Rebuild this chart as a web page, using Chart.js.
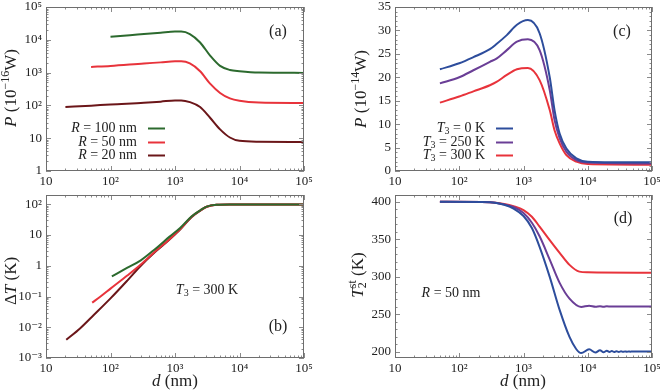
<!DOCTYPE html>
<html>
<head>
<meta charset="utf-8">
<script src="https://cdn.jsdelivr.net/npm/chart.js@4.4.1/dist/chart.umd.min.js"></script>
<style>
  html, body { margin: 0; padding: 0; background: #fff; }
  #wrap { position: relative; width: 660px; height: 392px; overflow: hidden; }
  .panel { position: absolute; }
</style>
</head>
<body>
<div id="wrap">
  <div class="panel" style="left:0;top:0;width:330px;height:186px"><canvas id="pa"></canvas></div>
  <div class="panel" style="left:330px;top:0;width:330px;height:186px"><canvas id="pc"></canvas></div>
  <div class="panel" style="left:0;top:186px;width:330px;height:206px"><canvas id="pb"></canvas></div>
  <div class="panel" style="left:330px;top:186px;width:330px;height:206px"><canvas id="pd"></canvas></div>
</div>
<script>
const SERIF = "'Liberation Serif', 'DejaVu Serif', serif";
const INK = '#222';

// x axis (all panels): distance d in nm
const xTickVals = [10, 100, 1000, 10000, 100000];
const xTickLabels = ['10', '10²', '10³', '10⁴', '10⁵'];

// (a) power vs d for three radii
const yATickVals = [1, 10, 100, 1000, 10000, 100000];
const yATickLabels = ['1', '10', '10²', '10³', '10⁴', '10⁵'];
const dA100 = [100, 200, 330, 600, 1000, 1250, 1700, 2450, 3500, 5000, 7100, 10000, 20000, 100000];
const pA100 = [12400, 13800, 15000, 16500, 17800, 17800, 15000, 8300, 3300, 1600, 1200, 1100, 1000, 980];
const dA50 = [50, 100, 330, 600, 1000, 1250, 1700, 2450, 3500, 5000, 7100, 10000, 20000, 100000];
const pA50 = [1490, 1600, 1900, 2050, 2200, 2200, 1900, 1100, 460, 240, 163, 138, 122, 118];
const dA20 = [20, 50, 100, 330, 600, 1000, 1250, 1700, 2450, 3500, 5000, 7100, 10000, 20000, 100000];
const pA20 = [89, 98, 107, 120, 130, 142, 142, 126, 89, 42, 18.6, 10.5, 8.3, 7.8, 7.7];
const labelsR = ['*R* = 100 nm', '*R* = 50 nm', '*R* = 20 nm'];
const colorsR = ['#2c6a2e', '#e8333b', '#6b1619'];

// (b) temperature rise vs d, same radii
const yBTickVals = [0.001, 0.01, 0.1, 1, 10, 100];
const yBTickLabels = ['10⁻³', '10⁻²', '10⁻¹', '1', '10', '10²'];
const dB100 = [105, 180, 295, 500, 815, 1200, 1800, 2500, 3100, 4400, 7000, 100000];
const tB100 = [0.45, 0.85, 1.5, 3.6, 8.7, 17, 40, 65, 84, 96, 98, 98];
const dB50 = [52, 70, 100, 182, 295, 500, 815, 1200, 1800, 2500, 3100, 4400, 7000, 100000];
const tB50 = [0.063, 0.1, 0.18, 0.48, 1.1, 3.0, 7.2, 15.5, 39, 64, 83, 96, 98, 98];
const dB20 = [20.6, 34, 55, 100, 182, 295, 500, 815, 1200, 1800, 2500, 3100, 4400, 7000, 100000];
const tB20 = [0.0039, 0.0093, 0.025, 0.087, 0.33, 1.0, 2.9, 7.0, 15, 38, 63, 83, 96, 98, 98];

// (c) power vs d for three T3
const yCTickVals = [0, 5, 10, 15, 20, 25, 30, 35];
const dC = [50, 100, 166, 300, 380, 550, 790, 1170, 1780, 2560, 3040, 3650, 4650, 6650, 10000, 100000];
const pC0 = [21.7, 23.0, 24.3, 26.0, 27.1, 29.0, 31.2, 32.2, 29.4, 20, 13, 8, 4.8, 2.7, 2.0, 1.85];
const pC250 = [18.7, 20.0, 21.5, 23.3, 24.0, 25.8, 27.6, 28.1, 25.8, 17.3, 10.9, 7, 4.1, 2.3, 1.8, 1.6];
const pC300 = [14.6, 15.9, 17.0, 18.3, 19.0, 20.5, 21.7, 22.0, 19.4, 13, 8.7, 5.9, 3.4, 2.0, 1.5, 1.35];
const labelsT = ['*T*_{3} = 0 K', '*T*_{3} = 250 K', '*T*_{3} = 300 K'];
const colorsT = ['#2d4d9c', '#6a3e96', '#e8333b'];

// (d) steady temperature of particle 2 vs d
const yDTickVals = [200, 250, 300, 350, 400];
const dD = [50, 300, 500, 700, 1000, 1350, 1780, 2560, 3650, 5200, 7400, 10000, 100000];
const tD300 = [400, 399.5, 397, 394, 389, 380, 367, 349, 332, 316, 307, 306, 305.5];
const dD250 = [50, 300, 500, 700, 1000, 1350, 1780, 2560, 3650, 5200, 7900, 10500, 13200, 15500, 17600, 19800, 23000, 100000];
const tD250 = [400, 399.5, 396.5, 393, 385, 372, 354, 323, 292, 271, 260.0, 261.6, 260.2, 261.0, 260.3, 260.8, 260.5, 260.5];
const dD0 = [50, 300, 500, 700, 1000, 1350, 1780, 2560, 3650, 5200, 6600, 7900, 10500, 13200, 15500, 17600, 19800, 21800, 23700, 25800, 28000, 30500, 33000, 35500, 38000, 40500, 43000, 46000, 49000, 60000, 100000];
const tD0 = [400, 399.5, 396, 391, 381, 365, 340, 300, 256, 220, 204, 198.5, 203.5, 199.3, 202.2, 199.6, 201.6, 199.9, 201.3, 200.0, 201.1, 200.1, 200.9, 200.2, 200.8, 200.3, 200.7, 200.4, 200.6, 200.5, 200.5];

function pts(d, v) { return d.map((x, i) => ({ x: x, y: v[i] })); }
function pick(vals, labels, v) {
  const i = vals.findIndex(t => Math.abs(t - v) <= Math.abs(t) * 1e-6 + 1e-12);
  return i < 0 ? '' : (labels ? labels[i] : String(vals[i]));
}

// small rich text: *italic*, ^{sup}, _{sub}
function richText(ctx, str, x, y, size, align, rotate) {
  const segs = [];
  let italic = false, buf = '', i = 0;
  const flush = () => { if (buf) segs.push({ t: buf, italic: italic, mode: 0 }); buf = ''; };
  while (i < str.length) {
    const c = str[i];
    if (c === '*') { flush(); italic = !italic; i++; }
    else if ((c === '^' || c === '_') && str[i + 1] === '{') {
      flush();
      const j = str.indexOf('}', i);
      segs.push({ t: str.slice(i + 2, j), italic: false, mode: c === '^' ? 1 : -1 });
      i = j + 1;
    } else { buf += c; i++; }
  }
  flush();
  const font = s => (s.italic ? 'italic ' : '') + (s.mode ? Math.round(size * 0.68) : size) + 'px ' + SERIF;
  let w = 0, prev = null;
  segs.forEach(s => {
    ctx.font = font(s);
    s.w = ctx.measureText(s.t).width;
    if (s.mode === 1 && prev && prev.mode === -1) { s.x = prev.x; w = Math.max(w, prev.x + s.w); }
    else { s.x = w; w += s.w; }
    prev = s;
  });
  ctx.save();
  ctx.translate(x, y);
  if (rotate) ctx.rotate(-Math.PI / 2);
  const x0 = align === 'center' ? -w / 2 : align === 'right' ? -w : 0;
  ctx.fillStyle = INK;
  ctx.textBaseline = 'middle';
  ctx.textAlign = 'left';
  segs.forEach(s => {
    ctx.font = font(s);
    const dy = s.mode === 1 ? -size * 0.38 : s.mode === -1 ? size * 0.24 : 0;
    ctx.fillText(s.t, x0 + s.x, dy);
  });
  ctx.restore();
}

function logMinor(min, max) {
  const out = [];
  for (let e = Math.floor(Math.log10(min)); e <= Math.ceil(Math.log10(max)); e++) {
    for (let k = 2; k <= 9; k++) {
      const v = k * Math.pow(10, e);
      if (v > min && v < max) out.push(v);
    }
  }
  return out;
}
function linMinor(min, max, step) {
  const out = [];
  for (let v = Math.ceil(min / step) * step; v <= max; v += step) out.push(v);
  return out;
}

function decor(cfg) {
  return {
    id: 'decor',
    afterDraw(chart) {
      const ctx = chart.ctx, a = chart.chartArea;
      const xs = chart.scales.x, ys = chart.scales.y;
      ctx.save();
      ctx.lineWidth = 1;
      ctx.strokeStyle = '#8a8a8a';
      const mark = (scale, vals, len) => vals.forEach(v => {
        const p = Math.round(scale.getPixelForValue(v)) + 0.5;
        ctx.beginPath();
        if (scale.isHorizontal()) {
          ctx.moveTo(p, a.bottom); ctx.lineTo(p, a.bottom - len);
          ctx.moveTo(p, a.top); ctx.lineTo(p, a.top + len);
        } else {
          ctx.moveTo(a.left, p); ctx.lineTo(a.left + len, p);
          ctx.moveTo(a.right, p); ctx.lineTo(a.right - len, p);
        }
        ctx.stroke();
      });
      mark(xs, xTickVals, 5);
      mark(xs, logMinor(xs.min, xs.max), 2.5);
      mark(ys, cfg.yMajor, 5);
      mark(ys, cfg.yLog ? logMinor(ys.min, ys.max) : linMinor(ys.min, ys.max, cfg.yMinorStep), 2.5);
      ctx.strokeStyle = '#6e6e6e';
      ctx.strokeRect(a.left + 0.5, a.top + 0.5, a.right - a.left - 1, a.bottom - a.top - 1);
      ctx.restore();

      richText(ctx, cfg.yTitle[0], cfg.yTitle[1], cfg.yTitle[2], 17, 'center', true);
      if (cfg.xTitle) richText(ctx, cfg.xTitle[0], cfg.xTitle[1], cfg.xTitle[2], 17, 'center', false);
      richText(ctx, cfg.tag[0], cfg.tag[1], cfg.tag[2], 16, 'center', false);
      if (cfg.note) richText(ctx, cfg.note[0], cfg.note[1], cfg.note[2], 14, 'center', false);
      if (cfg.legend) {
        const L = cfg.legend;
        chart.data.datasets.forEach((ds, i) => {
          const y = L.rows[i];
          richText(ctx, ds.label, L.textRight, y, 14, 'right', false);
          ctx.save();
          ctx.strokeStyle = ds.borderColor;
          ctx.lineWidth = 2;
          ctx.beginPath();
          ctx.moveTo(L.line[0], y + 0.5);
          ctx.lineTo(L.line[1], y + 0.5);
          ctx.stroke();
          ctx.restore();
        });
      }
    }
  };
}

function makePanel(id, cfg) {
  const tickFont = { family: SERIF, size: 13 };
  return new Chart(document.getElementById(id), {
    type: 'line',
    data: {
      datasets: cfg.series.map(s => ({
        label: s.label,
        data: pts(s.d, s.v),
        borderColor: s.color,
        borderWidth: 2,
        pointRadius: 0,
        fill: false,
        cubicInterpolationMode: 'monotone'
      }))
    },
    options: {
      responsive: true,
      maintainAspectRatio: false,
      animation: false,
      layout: { padding: { top: cfg.top, right: cfg.right, left: 0, bottom: 0 } },
      plugins: { legend: { display: false }, tooltip: { enabled: false } },
      scales: {
        x: {
          type: 'logarithmic',
          min: 10,
          max: 100000,
          grid: { display: false, drawTicks: false },
          border: { display: false },
          ticks: {
            color: INK, font: tickFont, padding: 3, maxRotation: 0, autoSkip: false,
            callback: v => pick(xTickVals, xTickLabels, v)
          },
          afterBuildTicks: s => { s.ticks = xTickVals.map(v => ({ value: v })); },
          afterFit: s => { s.height = cfg.xH; s.paddingLeft = 0; s.paddingRight = 0; }
        },
        y: {
          type: cfg.yLog ? 'logarithmic' : 'linear',
          min: cfg.yMin,
          max: cfg.yMax,
          grid: { display: false, drawTicks: false },
          border: { display: false },
          ticks: {
            color: INK, font: tickFont, padding: 4, autoSkip: false,
            callback: v => pick(cfg.yMajor, cfg.yLabels, v)
          },
          afterBuildTicks: s => { s.ticks = cfg.yMajor.map(v => ({ value: v })); },
          afterFit: s => { s.width = cfg.yW; s.paddingTop = 0; s.paddingBottom = 0; }
        }
      }
    },
    plugins: [decor(cfg)]
  });
}

makePanel('pa', {
  series: [
    { label: labelsR[0], d: dA100, v: pA100, color: colorsR[0] },
    { label: labelsR[1], d: dA50, v: pA50, color: colorsR[1] },
    { label: labelsR[2], d: dA20, v: pA20, color: colorsR[2] }
  ],
  yLog: true, yMin: 1, yMax: 100000, yMajor: yATickVals, yLabels: yATickLabels,
  top: 7, right: 26, yW: 46, xH: 15,
  yTitle: ['*P* (10^{−16}W)', 12, 88],
  tag: ['(a)', 278, 32],
  legend: { textRight: 137, line: [148, 165], rows: [128, 142, 155] }
});

makePanel('pb', {
  series: [
    { label: labelsR[0], d: dB100, v: tB100, color: colorsR[0] },
    { label: labelsR[1], d: dB50, v: tB50, color: colorsR[1] },
    { label: labelsR[2], d: dB20, v: tB20, color: colorsR[2] }
  ],
  yLog: true, yMin: 0.001, yMax: 200, yMajor: yBTickVals, yLabels: yBTickLabels,
  top: 9, right: 26, yW: 46, xH: 34,
  yTitle: ['Δ*T* (K)', 12, 95],
  xTitle: ['*d* (nm)', 175, 196],
  tag: ['(b)', 278, 141],
  note: ['*T*_{3} = 300 K', 207, 104]
});

makePanel('pc', {
  series: [
    { label: labelsT[0], d: dC, v: pC0, color: colorsT[0] },
    { label: labelsT[1], d: dC, v: pC250, color: colorsT[1] },
    { label: labelsT[2], d: dC, v: pC300, color: colorsT[2] }
  ],
  yLog: false, yMin: 0, yMax: 35, yMajor: yCTickVals, yLabels: null, yMinorStep: 1,
  top: 7, right: 8, yW: 65, xH: 15,
  yTitle: ['*P* (10^{−14}W)', 32, 89],
  tag: ['(c)', 292, 32],
  legend: { textRight: 155, line: [166, 183], rows: [128, 142, 155] }
});

makePanel('pd', {
  series: [
    { label: labelsT[0], d: dD0, v: tD0, color: colorsT[0] },
    { label: labelsT[1], d: dD250, v: tD250, color: colorsT[1] },
    { label: labelsT[2], d: dD, v: tD300, color: colorsT[2] }
  ],
  yLog: false, yMin: 192, yMax: 409, yMajor: yDTickVals, yLabels: null, yMinorStep: 10,
  top: 9, right: 8, yW: 65, xH: 34,
  yTitle: ['*T*_{2}^{st} (K)', 29, 89],
  xTitle: ['*d* (nm)', 193, 196],
  tag: ['(d)', 293, 33],
  note: ['*R* = 50 nm', 121, 107]
});
</script>
</body>
</html>
